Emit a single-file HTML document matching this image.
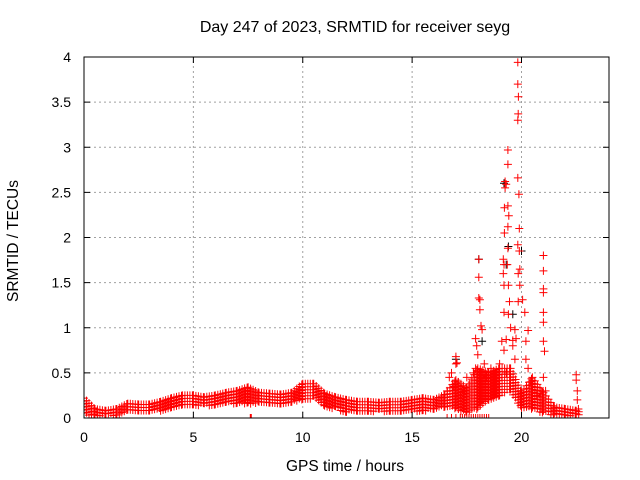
<!DOCTYPE html>
<html><head><meta charset="utf-8"><style>
body{margin:0;background:#fff}
svg{display:block;font-family:"Liberation Sans",sans-serif}
</style></head><body>
<svg id="c" width="640" height="480">
<rect width="640" height="480" fill="#fff"/>
<text x="355" y="32" font-size="16" text-anchor="middle">Day 247 of 2023, SRMTID for receiver seyg</text>
<text x="345" y="471" font-size="15.5" text-anchor="middle">GPS time / hours</text>
<text x="18" y="241" font-size="15.5" text-anchor="middle" transform="rotate(-90 18 241)">SRMTID / TECUs</text>
<g id="grid"></g>
<g id="marks"></g>
<rect x="84" y="57" width="525" height="361" fill="none" stroke="#000" stroke-width="1"/>
<g id="ticks"></g>
</svg>
<script>
const xTicks=[0,5,10,15,20];
const yTicks=[0,0.5,1,1.5,2,2.5,3,3.5,4];
const yTickLabels=["0","0.5","1","1.5","2","2.5","3","3.5","4"];
const bandT=[0,0.5,1,1.5,2,2.5,3,3.5,4,4.5,5,5.5,6,6.5,7,7.5,8,8.5,9,9.5,10,10.5,11,11.5,12,12.5,13,13.5,14,14.5,15,15.5,16,16.5,17,17.5,18,18.5,19,19.5,20,20.5,21,21.5,22,22.5,22.7];
const bandLow=[.03,.02,.02,.03,.08,.08,.06,.08,.1,.12,.14,.14,.12,.16,.16,.16,.16,.15,.16,.17,.2,.22,.12,.1,.06,.08,.06,.08,.06,.08,.08,.06,.1,.12,.1,.05,.1,.2,.25,.3,.1,.1,.05,.03,.02,.02,.02];
const bandHigh=[.22,.1,.08,.1,.16,.15,.15,.18,.22,.25,.25,.23,.25,.28,.3,.34,.28,.27,.26,.28,.38,.38,.27,.23,.2,.18,.18,.17,.18,.18,.2,.22,.2,.26,.42,.33,.55,.5,.55,.55,.28,.45,.28,.12,.1,.08,.06];
const redX=[19.83,19.83,19.86,19.85,19.83,19.38,19.38,19.83,19.25,19.3,19.25,19.88,19.22,19.38,19.42,19.38,19.9,19.22,19.38,19.83,19.9,18.05,19.17,21.0,21.0,19.2,19.35,18.05,19.17,19.85,19.92,21.0,21.0,19.2,19.4,19.92,18.05,18.1,19.45,19.85,20.05,18.1,19.2,19.4,20.15,21.0,21.0,18.15,18.2,19.5,19.7,20.3,17.9,17.95,19.1,19.3,19.6,19.75,20.2,21.0,21.05,17.0,17.05,16.6,16.7,16.8,16.9,17.0,17.1,17.2,17.4,17.5,17.8,17.9,18.0,18.1,18.3,18.4,18.6,18.7,18.8,19.0,19.1,19.2,19.3,19.5,19.6,19.7,20.2,20.3,20.4,20.5,20.7,20.9,21.0,21.1,22.5,22.5,22.55,22.55,22.6];
const redY=[3.94,3.70,3.56,3.37,3.30,2.97,2.81,2.66,2.62,2.59,2.55,2.48,2.33,2.35,2.24,2.12,2.10,2.05,1.88,1.92,1.85,1.76,1.76,1.80,1.63,1.70,1.70,1.56,1.60,1.60,1.65,1.43,1.39,1.47,1.47,1.47,1.33,1.31,1.29,1.29,1.31,1.20,1.17,1.15,1.17,1.17,1.06,1.02,0.98,1.0,0.98,0.97,0.88,0.80,0.85,0.87,0.86,0.88,0.85,0.85,0.74,0.68,0.61,0.3,0.45,0.5,0.35,0.6,0.4,0.25,0.3,0.45,0.5,0.55,0.7,0.4,0.6,0.45,0.55,0.4,0.5,0.6,0.45,0.75,0.5,0.55,0.8,0.65,0.65,0.55,0.4,0.3,0.25,0.3,0.45,0.3,0.48,0.42,0.3,0.2,0.1];
const blackX=[19.2,19.4,18.05,17.0,19.3,18.2,19.6,20.0];
const blackY=[2.6,1.9,1.76,0.65,1.7,0.85,1.15,1.85];
const zeroX=[7.6,7.65,16.6,16.8,17.0,17.2,17.3,17.4,17.5,17.6,17.7,17.8,17.9,18.0,18.1,18.2,18.3,18.4,18.5];
const X0=84,X1=609,Y0=418,Y1=57,XMAX=24,YMAX=4;
const sx=v=>X0+v/XMAX*(X1-X0), sy=v=>Y0-v/YMAX*(Y0-Y1);
const NS='http://www.w3.org/2000/svg';
const grid=document.getElementById('grid'),ticks=document.getElementById('ticks'),marks=document.getElementById('marks');
function mk(tag,attrs,parent){const e=document.createElementNS(NS,tag);for(const k in attrs)e.setAttribute(k,attrs[k]);parent.appendChild(e);return e;}
xTicks.forEach(t=>{const x=sx(t);
 if(t>0){const g=mk('line',{x1:x,x2:x,y1:Y0,y2:Y1,stroke:'#a0a0a0','stroke-dasharray':'2,3'},grid);
 
 }
 mk('line',{x1:x,x2:x,y1:Y0,y2:Y0-6,stroke:'#000'},ticks);mk('line',{x1:x,x2:x,y1:Y1,y2:Y1+6,stroke:'#000'},ticks);
 const l=mk('text',{x:x,y:Y0+24,'font-size':14,'text-anchor':'middle'},ticks);l.textContent=t;
 
 });
yTicks.forEach((t,i)=>{const y=sy(t);
 if(t>0&&t<YMAX){const g=mk('line',{x1:X0,x2:X1,y1:y,y2:y,stroke:'#a0a0a0','stroke-dasharray':'2,3'},grid);
 
 }
 mk('line',{x1:X0,x2:X0+6,y1:y,y2:y,stroke:'#000'},ticks);mk('line',{x1:X1,x2:X1-6,y1:y,y2:y,stroke:'#000'},ticks);
 const l=mk('text',{x:X0-13,y:y+5,'font-size':14,'text-anchor':'end'},ticks);l.textContent=yTickLabels[i];
 
 });
let dr='',db='';
const plus=(x,y)=>`M${(x-4).toFixed(1)} ${y.toFixed(1)}h8M${x.toFixed(1)} ${(y-4).toFixed(1)}v8`;
for(let i=0;i<bandT.length-1;i++){
 const xa=sx(bandT[i]),xb=sx(bandT[i+1]);
 for(let x=xa;x<xb;x+=2.5){const f=(x-xa)/(xb-xa);
  const lo=sy(bandLow[i]+(bandLow[i+1]-bandLow[i])*f),hi=sy(bandHigh[i]+(bandHigh[i+1]-bandHigh[i])*f);
  for(let y=hi;y<=lo;y+=3)dr+=plus(x,y);}
}
redX.forEach((v,i)=>{dr+=plus(sx(v),sy(redY[i]));});
zeroX.forEach(v=>{dr+=plus(sx(v),sy(0));});
blackX.forEach((v,i)=>{db+=plus(sx(v),sy(blackY[i]));});
const cp=mk('clipPath',{id:'cl'},marks);mk('rect',{x:X0,y:Y1-5,width:X1-X0,height:Y0-Y1+5},cp);
const pb=mk('path',{d:db,stroke:'#000','stroke-width':1,fill:'none','clip-path':'url(#cl)'},marks);


const pr=mk('path',{d:dr,stroke:'#f00','stroke-width':1,fill:'none','clip-path':'url(#cl)'},marks);


</script>
</body></html>
